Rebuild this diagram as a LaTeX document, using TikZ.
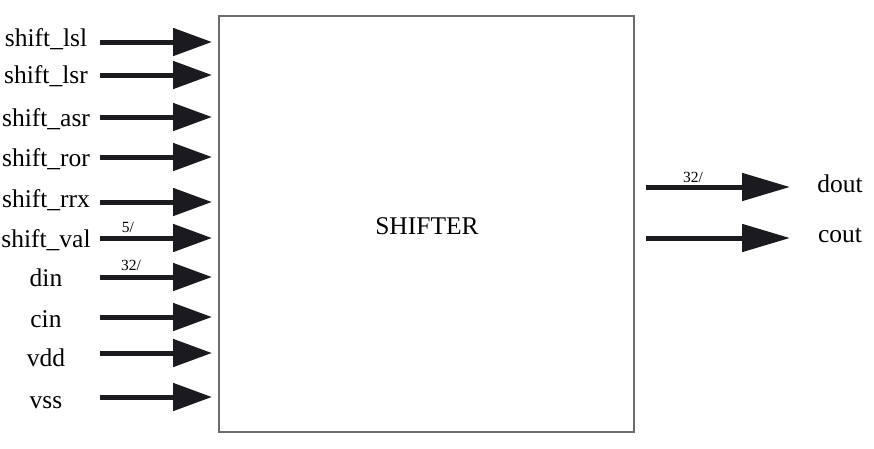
\documentclass[tikz,border=0pt]{standalone}
\usepackage{fontspec}
\setmainfont{Liberation Serif}
\usetikzlibrary{arrows.meta}
\definecolor{arrowblk}{HTML}{1A1A1F}

\begin{document}
\begin{tikzpicture}[x=1pt,y=-1pt,
  font=\fontsize{25.5}{30}\selectfont,
  blk/.style={draw=gray!85!black,line width=1.2pt,minimum width=415pt,minimum height=416pt,inner sep=0pt},
  pin/.style={-{Triangle[length=39pt,width=27pt]},line width=5pt,draw=arrowblk,fill=arrowblk},
  opin/.style={-{Triangle[length=48pt,width=27pt]},line width=5pt,draw=arrowblk,fill=arrowblk},
  lbl/.style={anchor=base,inner sep=0pt},
  bus/.style={anchor=base,inner sep=0pt,font=\fontsize{15.5}{18}\selectfont},
]
\useasboundingbox (0,0) rectangle (874,448);

% the block
\node[blk] (shifter) at (426.5,224) {};
\node[lbl] (title) at (427,234) {SHIFTER};

% inputs
\foreach \n/\y/\b/\t in {lsl/42/46/shift\_lsl, lsr/75/83/shift\_lsr, asr/117/126/shift\_asr,
    ror/157/166/shift\_ror, rrx/202/207/shift\_rrx, val/238/247/shift\_val,
    din/277/286/din, cin/317/327/cin, vdd/353/366/vdd, vss/397/408/vss} {
  \node[lbl] (\n) at (46,\b) {\t};
  \coordinate (\n-a) at (100,\y);
  \coordinate (\n-b) at (212,\y);
  \draw[pin] (\n-a) -- (\n-b);
}

% outputs
\foreach \n/\y/\b in {dout/187/192, cout/238/242} {
  \coordinate (\n-a) at (646,\y);
  \coordinate (\n-b) at (790,\y);
  \draw[opin] (\n-a) -- (\n-b);
  \node[lbl] (\n) at (840,\b) {\n};
}

% bus widths
\node[bus] (w-val) at (128,232) {5/};
\node[bus] (w-din) at (131,270) {32/};
\node[bus] (w-dout) at (693,182) {32/};
\end{tikzpicture}
\end{document}
